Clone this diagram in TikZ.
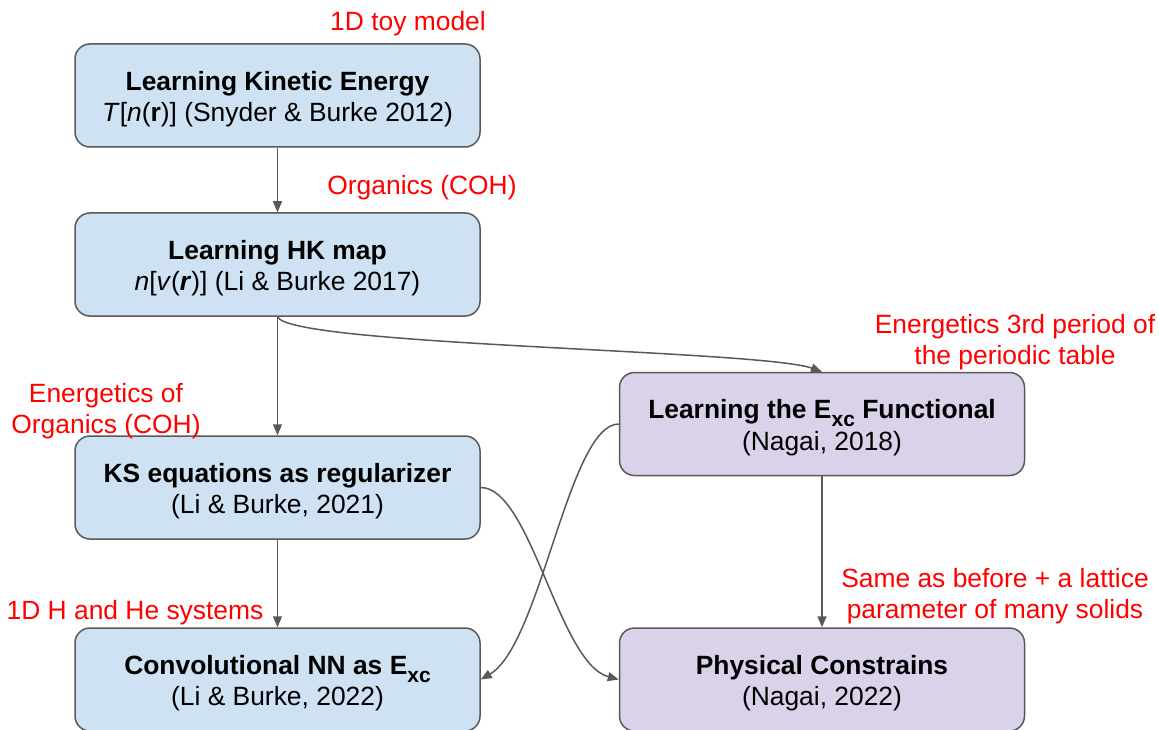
\documentclass[tikz,border=0pt]{standalone}
\usepackage{fontspec}
\setmainfont{Liberation Sans}
\usetikzlibrary{arrows.meta}
\definecolor{boxblue}{HTML}{CFE2F3}
\definecolor{boxpurple}{HTML}{D9D2E9}
\definecolor{edgegray}{HTML}{595959}
\definecolor{notered}{HTML}{FF0000}
% lowered "xc" subscript for E_xc
\newcommand{\xcsub}{\raisebox{-8pt}[0pt][0pt]{\fontsize{21}{21}\selectfont xc}}
% invisible strut giving the title line a little extra headroom
\newcommand{\headroom}{\rule{0pt}{26.5pt}}
\begin{document}
\begin{tikzpicture}[x=1pt,y=-1pt,
  card/.style={draw=edgegray, line width=1.5pt, rounded corners=15pt,
    minimum width=405pt, minimum height=103pt, inner sep=0pt, align=center,
    font=\fontsize{26.4}{31.5}\selectfont},
  bluecard/.style={card, fill=boxblue},
  purplecard/.style={card, fill=boxpurple},
  link/.style={draw=edgegray, line width=1.5pt, -{Triangle[length=11pt,width=9pt]}},
  remark/.style={text=notered, font=\fontsize{26.4}{30.5}\selectfont,
    align=center, anchor=base, inner sep=0pt}
]
\fill[white] (0,0) rectangle (1159,730);
\useasboundingbox (0,0) rectangle (1159,730);

% literature boxes
\node[bluecard] (kin) at (277.5,95.5)
  {\headroom\textbf{Learning Kinetic Energy}\\\textit{T}[\textit{n}(\textbf{r})] (Snyder \& Burke 2012)};
\node[bluecard] (hk) at (277.5,264.5)
  {\headroom\textbf{Learning HK map}\\\textit{n}[\textit{v}(\textbf{\textit{r}})] (Li \& Burke 2017)};
\node[bluecard] (ks) at (277.5,487.5)
  {\headroom\textbf{KS equations as regularizer}\\(Li \& Burke, 2021)};
\node[bluecard] (cnn) at (277.5,679.5)
  {\headroom\textbf{Convolutional NN as E\xcsub}\\(Li \& Burke, 2022)};
\node[purplecard] (exc) at (822,424)
  {\headroom\textbf{Learning the E\xcsub{} Functional}\\(Nagai, 2018)};
\node[purplecard] (phys) at (822,679.5)
  {\headroom\textbf{Physical Constrains}\\(Nagai, 2022)};

% dataset remarks (base = baseline of the last line)
\node[remark] (r1) at (408,31) {1D toy model};
\node[remark] (r2) at (422,195) {Organics (COH)};
\node[remark] (r3) at (106,433) {Energetics of\\Organics (COH)};
\node[remark] (r4) at (1015,364) {Energetics 3rd period of\\the periodic table};
\node[remark] (r5) at (135,619) {1D H and He systems};
\node[remark] (r6) at (995,618) {Same as before + a lattice\\parameter of many solids};

% connectors
\draw[link] (kin) -- (hk);
\draw[link] (hk) -- (ks);
\draw[link] (ks) -- (cnn);
\draw[link] (exc) -- (phys);
\draw[link] (hk.south) .. controls +(12,29) and +(-62,-22) .. (exc.north);
\draw[link] (ks.east) .. controls +(50,0) and +(-60,-16) .. (phys.west);
\draw[link] (exc.west) .. controls +(-50,0) and +(60,-35) .. (cnn.east);
\end{tikzpicture}
\end{document}
